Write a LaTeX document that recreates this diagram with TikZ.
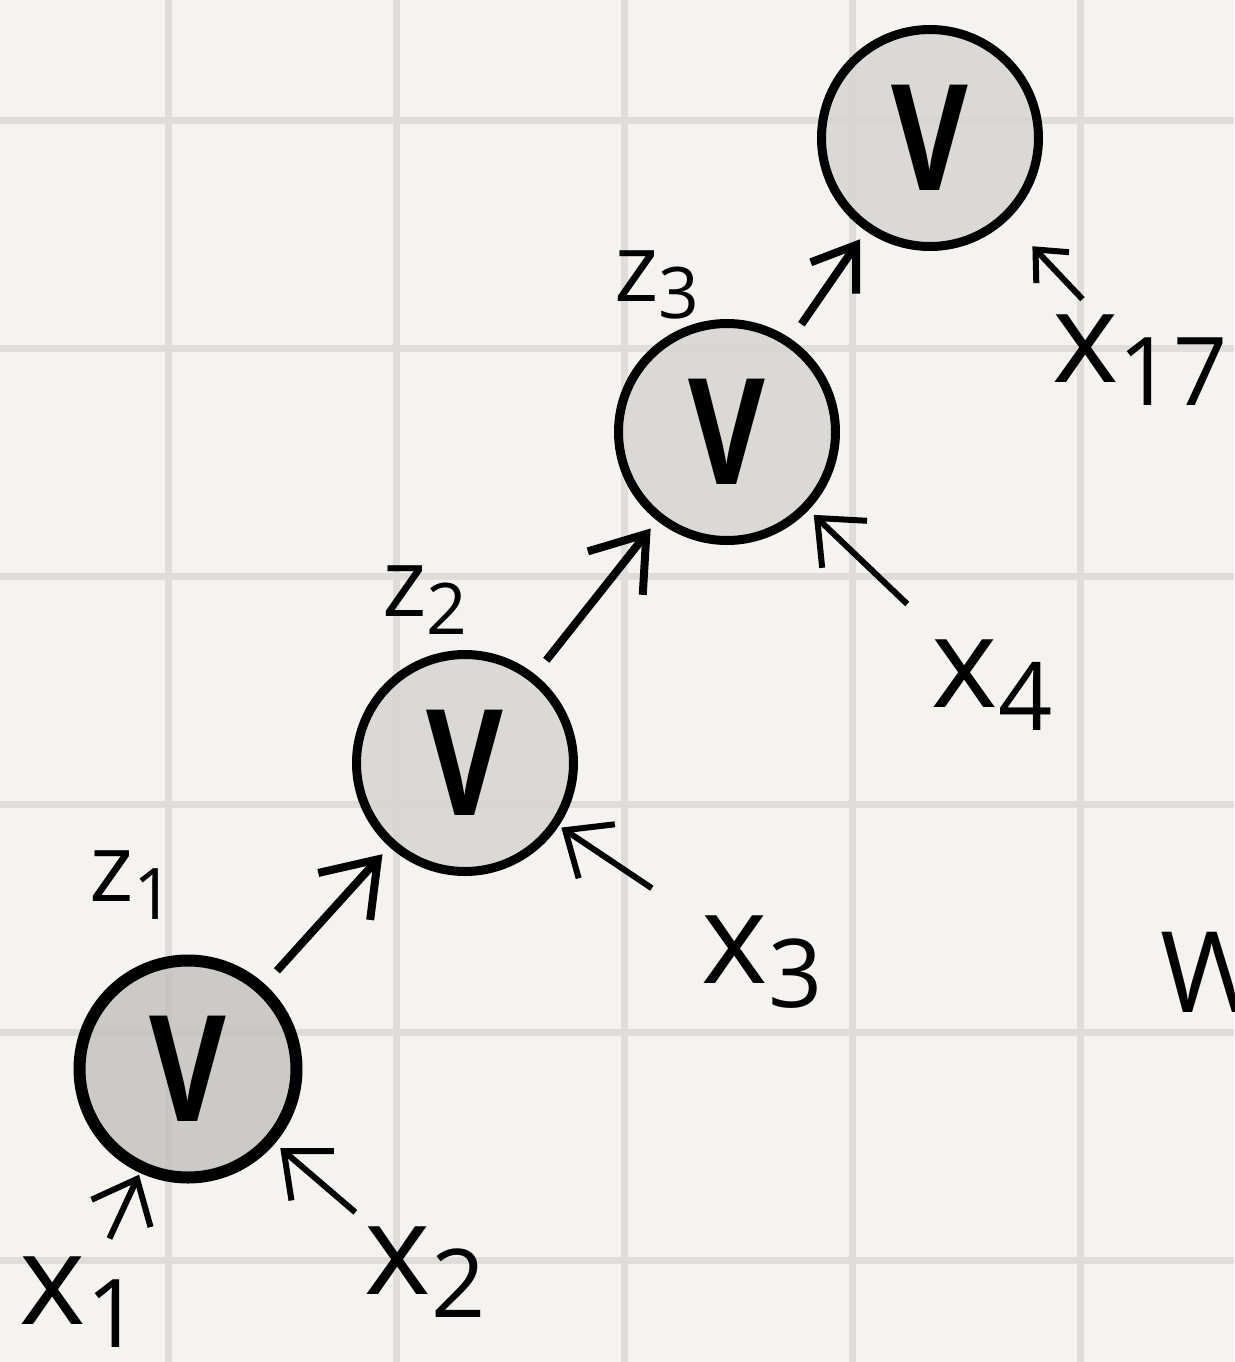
\documentclass[tikz,border=0pt]{standalone}
\usepackage{fontspec}
\setmainfont{Open Sans}
\usepackage{tikz}
\usetikzlibrary{arrows.meta}

\definecolor{kertas}{HTML}{F4F3EF}
\definecolor{garisbantu}{HTML}{DEDDDA}
\definecolor{isi}{HTML}{D6D5D1}
\definecolor{isigelap}{HTML}{C4C3BF}

\newcommand{\hurufV}{\scalebox{0.8}[1]{V}}
\newcommand{\idx}[2]{#1\raisebox{-0.35ex}{\scalebox{0.75}{#2}}}

\begin{document}
\begin{tikzpicture}[
			simpul/.style={draw, circle, minimum size=2.17cm, inner sep=0pt, fill=isi, fill opacity=0.85, text opacity=1, line width=0.09cm, font=\fontsize{42}{46}\selectfont\bfseries},
			teksx/.style={font=\fontsize{36}{40}\selectfont, inner sep=1pt},
			teksz/.style={font=\fontsize{27}{30}\selectfont, inner sep=1pt},
			panah/.style={-{Straight Barb[length=0.5cm, width=0.7cm]}, line width=0.08cm, shorten <=0.18cm, shorten >=0.1cm},
			masuk/.style={-{Straight Barb[length=0.38cm, width=0.65cm]}, line width=0.06cm, shorten <=0.15cm}
		]
		% Kertas berpetak
		\clip (0,0) rectangle (12.34,-13.62);
		\fill[kertas] (0,0) rectangle (12.34,-13.62);
		\foreach \gx in {1.68,3.96,6.24,8.52,10.80}
			\draw[garisbantu, line width=0.07cm] (\gx,0) -- (\gx,-13.62);
		\foreach \gy in {-1.20,-3.48,-5.76,-8.04,-10.32,-12.60}
			\draw[garisbantu, line width=0.07cm] (0,\gy) -- (12.34,\gy);

		% Simpul V
		\node[simpul, fill=isigelap, line width=0.12cm] (v1) at (1.88,-10.69) {\hurufV};
		\node[simpul] (v2) at (4.65,-7.63) {\hurufV};
		\node[simpul] (v3) at (7.27,-4.32) {\hurufV};
		\node[simpul] (v4) at (9.30,-1.38) {\hurufV};

		% Label z
		\node[teksz] (z1) at (1.32,-8.85) {\idx{z}{1}};
		\node[teksz] (z2) at (4.25,-6.00) {\idx{z}{2}};
		\node[teksz] (z3) at (6.57,-2.85) {\idx{z}{3}};

		% Masukan x
		\node[teksx] (x1) at (0.80,-13.02) {\idx{x}{1}};
		\node[teksx] (x2) at (4.25,-12.72) {\idx{x}{2}};
		\node[teksx] (x3) at (7.62,-9.62) {\idx{x}{3}};
		\node[teksx] (x4) at (9.92,-6.85) {\idx{x}{4}};
		\node[teksx] (x17) at (11.40,-3.60) {\idx{x}{17}};
		\node[teksx, font=\fontsize{32}{36}\selectfont] (w) at (12.13,-9.72) {W};

		% Rantai antar simpul
		\draw[panah] (v1) -- (v2);
		\draw[panah] (v2) -- (v3);
		\draw[panah, -{Straight Barb[length=0.4cm, width=0.55cm]}] (v3) -- (v4);

		% Garis masukan ke simpul
		\draw[masuk, shorten >=0.02cm] (x1) -- (v1);
		\draw[masuk, shorten >=0.07cm] (x2) -- (v1);
		\draw[masuk, shorten <=0.55cm, shorten >=0.03cm] (x3) -- (v2);
		\draw[masuk, shorten <=0.45cm, shorten >=0.07cm] (x4) -- (v3);
		\draw[masuk, shorten >=0.36cm, -{Straight Barb[length=0.25cm, width=0.45cm]}] (x17) -- (v4);
	\end{tikzpicture}
\end{document}
